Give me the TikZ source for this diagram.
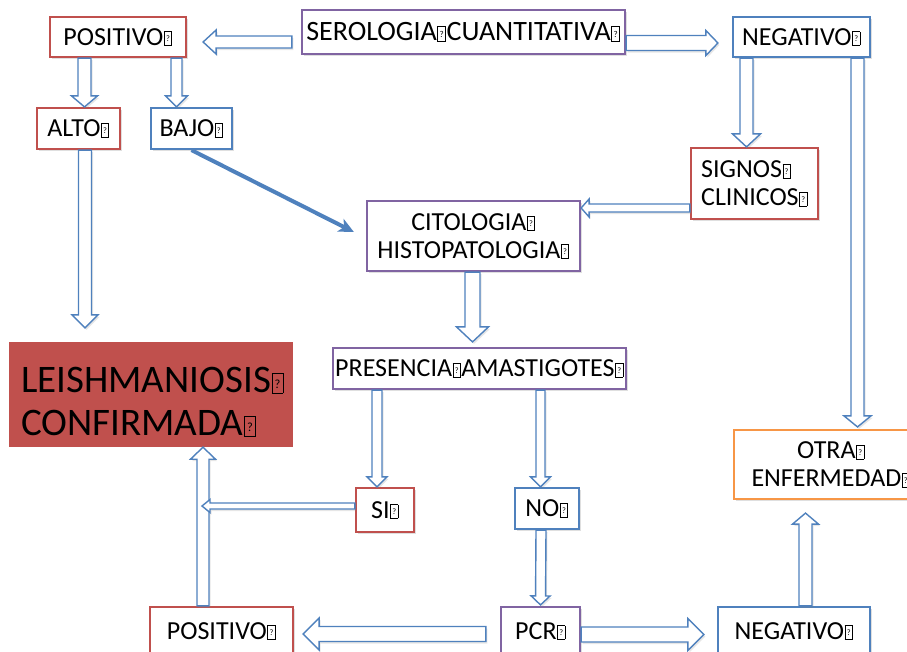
\documentclass[tikz,border=0pt]{standalone}
\usepackage{fontspec}
\setmainfont{Carlito}
\usetikzlibrary{calc,arrows.meta,shadows}

\definecolor{ofblue}{RGB}{79,129,189}
\definecolor{ofred}{RGB}{192,80,77}
\definecolor{ofpurple}{RGB}{128,100,162}
\definecolor{oforange}{RGB}{247,150,70}

% glyph box shown for the missing character
\newcommand{\faltante}{\kern0.02em{\fboxsep=0pt\fboxrule=0.7pt\fbox{\makebox[0.26em]{\rule{0pt}{0.5em}\raisebox{0.12em}{\scalebox{0.32}{?}}}}}\kern0.02em}

\tikzset{
  caja/.style={draw=#1, line width=2.2pt, fill=white, inner sep=0pt, align=center,
    font=\fontsize{26}{28}\selectfont,
    drop shadow={shadow xshift=1.5pt, shadow yshift=-2pt, opacity=.25}},
  % shaft half width, head half width, head length
  flecha/.style n args={3}{draw=ofblue, line width=1.4pt, fill=white, line join=miter,
    drop shadow={shadow xshift=1.5pt, shadow yshift=-2pt, opacity=.2},
    to path={
      ($(\tikztostart)!#1pt!90:(\tikztotarget)$)
      -- ($(\tikztotarget)!{sqrt((#3)^2+(#1)^2)*1pt}!{-atan((#1)/(#3))}:(\tikztostart)$)
      -- ($(\tikztotarget)!{sqrt((#3)^2+(#2)^2)*1pt}!{-atan((#2)/(#3))}:(\tikztostart)$)
      -- (\tikztotarget)
      -- ($(\tikztotarget)!{sqrt((#3)^2+(#2)^2)*1pt}!{atan((#2)/(#3))}:(\tikztostart)$)
      -- ($(\tikztotarget)!{sqrt((#3)^2+(#1)^2)*1pt}!{atan((#1)/(#3))}:(\tikztostart)$)
      -- ($(\tikztostart)!#1pt!-90:(\tikztotarget)$)
      -- cycle}}
}

\begin{document}
\begin{tikzpicture}[x=1pt,y=-1pt]
  \useasboundingbox (0,0) rectangle (907,651);
  \clip (0,0) rectangle (907,651);

  % boxes
  \node[caja=ofpurple, minimum width=323pt, minimum height=44pt, font=\fontsize{28}{30}\selectfont] (sero) at (463.5,32) {SEROLOGIA\faltante CUANTITATIVA\faltante};
  \node[caja=ofred, minimum width=136pt, minimum height=40pt] (posa) at (118,37) {POSITIVO\faltante};
  \node[caja=ofblue, minimum width=137pt, minimum height=40pt] (nega) at (801.5,37) {NEGATIVO\faltante};
  \node[caja=ofred, minimum width=83pt, minimum height=41pt] (alto) at (78.5,128.5) {ALTO\faltante};
  \node[caja=ofblue, minimum width=81pt, minimum height=41pt] (bajo) at (191.5,128.5) {BAJO\faltante};
  \node[caja=ofred, minimum width=127pt, minimum height=71pt, align=left] (signos) at (754.5,183.5) {SIGNOS\faltante\\CLINICOS\faltante};
  \node[caja=ofpurple, minimum width=213pt, minimum height=70pt] (cito) at (473.5,236) {CITOLOGIA\faltante\\HISTOPATOLOGIA\faltante};
  \node[caja=ofpurple, minimum width=293pt, minimum height=41pt] (pres) at (479.5,368.5) {PRESENCIA\faltante AMASTIGOTES\faltante};
  \node[caja=ofred, minimum width=58pt, minimum height=44pt] (si) at (385,510) {SI\faltante};
  \node[caja=ofblue, minimum width=64pt, minimum height=41pt] (no) at (547,508.5) {NO\faltante};
  \node[caja=ofpurple, minimum width=79pt, minimum height=48pt] (pcr) at (540.5,631) {PCR\faltante};
  \node[caja=ofblue, minimum width=152pt, minimum height=48pt] (negb) at (794,631) {NEGATIVO\faltante};
  \node[caja=ofred, minimum width=143pt, minimum height=48pt] (posb) at (221.5,631) {POSITIVO\faltante};
  \node[caja=oforange, minimum width=194pt, minimum height=69pt] (otra) at (831,464.5) {OTRA\faltante\\ENFERMEDAD\faltante};
  \node[fill=ofred, minimum width=284pt, minimum height=105pt, inner sep=0pt] (leish) at (151,394.5) {};
  \node[anchor=west, align=left, inner sep=0pt, font=\fontsize{39}{43}\selectfont] (leishtxt) at (21,402) {LEISHMANIOSIS\faltante\\CONFIRMADA\faltante};

  % arrows
  \draw[flecha={6}{12}{13}] ([shift={(-9,10)}]sero.west) to ([shift={(16,5)}]posa.east);
  \draw[flecha={7.5}{12.5}{12}] ([shift={(0,11)}]sero.east) to ([shift={(-14,6)}]nega.west);
  \draw[flecha={6.5}{13}{11}] ([shift={(-33.5,0)}]posa.south) to ([shift={(6,0)}]alto.north);
  \draw[flecha={5.5}{11}{11}] ([shift={(58.5,0)}]posa.south) to ([shift={(-15,0)}]bajo.north);
  \draw[flecha={6.5}{13}{13}] ([shift={(6.5,0)}]alto.south) to ([shift={(-66,-14)}]leish.north);
  \draw[ofblue, line width=4pt, -{Stealth[length=15pt,width=14pt,inset=4pt]}] (bajo.south) -- ([shift={(-12,-4)}]cito.west);
  \draw[flecha={6.5}{14}{13}] ([shift={(-55,0)}]nega.south) to ([shift={(-8,0)}]signos.north);
  \draw[flecha={6.5}{13.5}{11}] ([shift={(56,0)}]nega.south) to ([shift={(26.5,-2)}]otra.north);
  \draw[flecha={4}{9}{8}] ([shift={(0,24.5)}]signos.west) to ([shift={(0,-28)}]cito.east);
  \draw[flecha={7.5}{16}{15}] ([shift={(-1,0)}]cito.south) to ([shift={(-7,-5)}]pres.north);
  \draw[flecha={5}{10}{10}] ([shift={(-102.5,0)}]pres.south) to ([shift={(-8,0)}]si.north);
  \draw[flecha={4.5}{10}{10}] ([shift={(61,0)}]pres.south) to ([shift={(-6.5,0)}]no.north);
  \draw[flecha={5}{9.5}{9}] ([shift={(-6,0)}]no.south) to ([shift={(0,-1)}]pcr.north);
  \draw[flecha={7.5}{16}{16}] ([shift={(0,3.5)}]pcr.east) to ([shift={(-13,3.5)}]negb.west);
  \draw[flecha={7.5}{16}{16}] ([shift={(-14,3)}]pcr.west) to ([shift={(9,3)}]posb.east);
  \draw[flecha={6.5}{13}{11}] ([shift={(11.5,0)}]negb.north) to ([shift={(-25.5,13)}]otra.south);
  \draw[flecha={6}{12.5}{12}] ([shift={(-18.5,0)}]posb.north) to ([shift={(52,0)}]leish.south);
  \coordinate (lado) at (202,506);
  \draw[flecha={3}{6.5}{8}] ([shift={(0,-4)}]si.west) to (lado);
\end{tikzpicture}
\end{document}
